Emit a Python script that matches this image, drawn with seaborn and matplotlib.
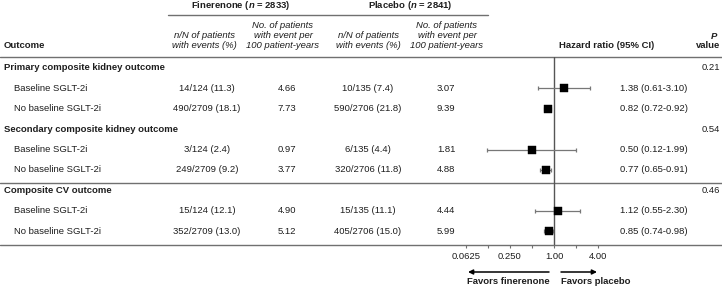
import numpy as np
import pandas as pd
import seaborn as sns
from matplotlib import pyplot as plt

outcomes = ["Primary composite kidney outcome", "Secondary composite kidney outcome", "Composite CV outcome"]
subgroups = ["Baseline SGLT-2i", "No baseline SGLT-2i"]
p_values = ["0.21", "0.54", "0.46"]

fin_events = ["14/124 (11.3)", "490/2709 (18.1)", "3/124 (2.4)", "249/2709 (9.2)", "15/124 (12.1)", "352/2709 (13.0)"]
fin_rate = [4.66, 7.73, 0.97, 3.77, 4.90, 5.12]
pla_events = ["10/135 (7.4)", "590/2706 (21.8)", "6/135 (4.4)", "320/2706 (11.8)", "15/135 (11.1)", "405/2706 (15.0)"]
pla_rate = [3.07, 9.39, 1.81, 4.88, 4.44, 5.99]
hr = [1.38, 0.82, 0.50, 0.77, 1.12, 0.85]
hr_low = [0.61, 0.72, 0.12, 0.65, 0.55, 0.74]
hr_high = [3.10, 0.92, 1.99, 0.91, 2.30, 0.98]

major_ticks = [0.0625, 0.25, 1, 4]
major_labels = ["0.0625", "0.250", "1.00", "4.00"]
minor_ticks = [0.125, 0.5, 2]

sns.set_theme(style="white")
plt.rcParams['font.family'] = ['Liberation Sans', 'DejaVu Sans']
plt.rcParams['mathtext.fontset'] = 'custom'
plt.rcParams['mathtext.rm'] = 'Liberation Sans:bold'
plt.rcParams['mathtext.it'] = 'Liberation Sans:italic:bold'
plt.rcParams['mathtext.bf'] = 'Liberation Sans:bold'

FS = 6.8
TXT = '#1e1e1e'
LINE = '#707070'

# layout in pixels (y grows downward)
row_top, row_step = 68, 20.4
row_y = [row_top + row_step * i for i in range(9)]

fig = plt.figure(figsize=(7.22, 2.89), dpi=100)
bg = fig.add_axes([0, 0, 1, 1])
bg.set_xlim(0, 722)
bg.set_ylim(289, 0)
bg.axis('off')

# header
bg.text(241, 6, "Finerenone ($n$ = 2833)", ha='center', va='center', fontsize=FS, fontweight='bold', color=TXT)
bg.text(410, 6, "Placebo ($n$ = 2841)", ha='center', va='center', fontsize=FS, fontweight='bold', color=TXT)
bg.plot([168, 488], [15, 15], color=LINE, lw=1.0)

for cx in [204, 368]:
    for ly, s in zip([35, 45], ["n/N of patients", "with events (%)"]):
        bg.text(cx, ly, s, ha='center', va='center', fontsize=FS, style='italic', color=TXT)
for cx in [283, 447]:
    for ly, s in zip([25, 35, 45], ["No. of patients", "with event per", "100 patient-years"]):
        bg.text(cx, ly, s, ha='center', va='center', fontsize=FS, style='italic', color=TXT)

bg.text(4, 46, "Outcome", ha='left', va='center', fontsize=FS, fontweight='bold', color=TXT)
bg.text(607, 46, "Hazard ratio (95% CI)", ha='center', va='center', fontsize=FS, fontweight='bold', color=TXT)
bg.text(714, 36, "$P$", ha='center', va='center', fontsize=FS, color=TXT)
bg.text(720, 46, "value", ha='right', va='center', fontsize=FS, fontweight='bold', color=TXT)

for yy in [57, 183, 245]:
    bg.plot([0, 722], [yy, yy], color=LINE, lw=1.0)

# table body
sub_y = []
for k, name in enumerate(outcomes):
    y0 = row_y[3 * k]
    bg.text(4, y0, name, ha='left', va='center', fontsize=FS, fontweight='bold', color=TXT)
    bg.text(720, y0, p_values[k], ha='right', va='center', fontsize=FS, color=TXT)
    for j, sg in enumerate(subgroups):
        i = 2 * k + j
        y = row_y[3 * k + 1 + j]
        sub_y.append(y)
        bg.text(14, y, sg, ha='left', va='center', fontsize=FS, color=TXT)
        bg.text(207, y, fin_events[i], ha='center', va='center', fontsize=FS, color=TXT)
        bg.text(287, y, f"{fin_rate[i]:.2f}", ha='center', va='center', fontsize=FS, color=TXT)
        bg.text(368, y, pla_events[i], ha='center', va='center', fontsize=FS, color=TXT)
        bg.text(446, y, f"{pla_rate[i]:.2f}", ha='center', va='center', fontsize=FS, color=TXT)
        bg.text(620, y, f"{hr[i]:.2f} ({hr_low[i]:.2f}-{hr_high[i]:.2f})", ha='left', va='center',
                fontsize=FS, color=TXT)

# forest plot
df = pd.DataFrame({"hr": hr, "low": hr_low, "high": hr_high, "y": sub_y})
ax = fig.add_axes([444 / 722, (289 - 245) / 289, 176 / 722, 188 / 289])
ax.patch.set_alpha(0)
ax.set_xscale('log', base=2)
ax.set_xlim(1 / 32, 8)
ax.set_ylim(245, 57)
ax.axvline(1, color='#555555', lw=1.0, zorder=1)
ax.errorbar(df["hr"], df["y"], xerr=[df["hr"] - df["low"], df["high"] - df["hr"]], fmt='none',
            ecolor='#777777', elinewidth=0.9, capsize=1.6, capthick=0.9, zorder=2)
sns.scatterplot(data=df, x="hr", y="y", marker='s', s=30, color='black', edgecolor='black', linewidth=0.3,
                ax=ax, zorder=3, legend=False)
for sp in ax.spines.values():
    sp.set_visible(False)
ax.set_xlabel("")
ax.set_ylabel("")
ax.set_yticks([])
ax.set_xticks(major_ticks)
ax.set_xticklabels(major_labels)
ax.set_xticks(minor_ticks, minor=True)
ax.tick_params(axis='x', which='both', bottom=True, direction='out', length=2.5, width=0.8, color=LINE,
               labelsize=FS, labelcolor=TXT, pad=2.5)
ax.tick_params(axis='x', which='minor', labelbottom=False)

# favors arrows
arrow = dict(arrowstyle="-|>", color='black', lw=1.1, mutation_scale=7, shrinkA=0, shrinkB=0)
bg.annotate("", xy=(468, 272), xytext=(549, 272), arrowprops=arrow)
bg.annotate("", xy=(597, 272), xytext=(561, 272), arrowprops=arrow)
bg.text(508, 282, "Favors finerenone", ha='center', va='center', fontsize=FS, fontweight='bold', color=TXT)
bg.text(561, 282, "Favors placebo", ha='left', va='center', fontsize=FS, fontweight='bold', color=TXT)

fig.savefig("out.png", dpi=100)
